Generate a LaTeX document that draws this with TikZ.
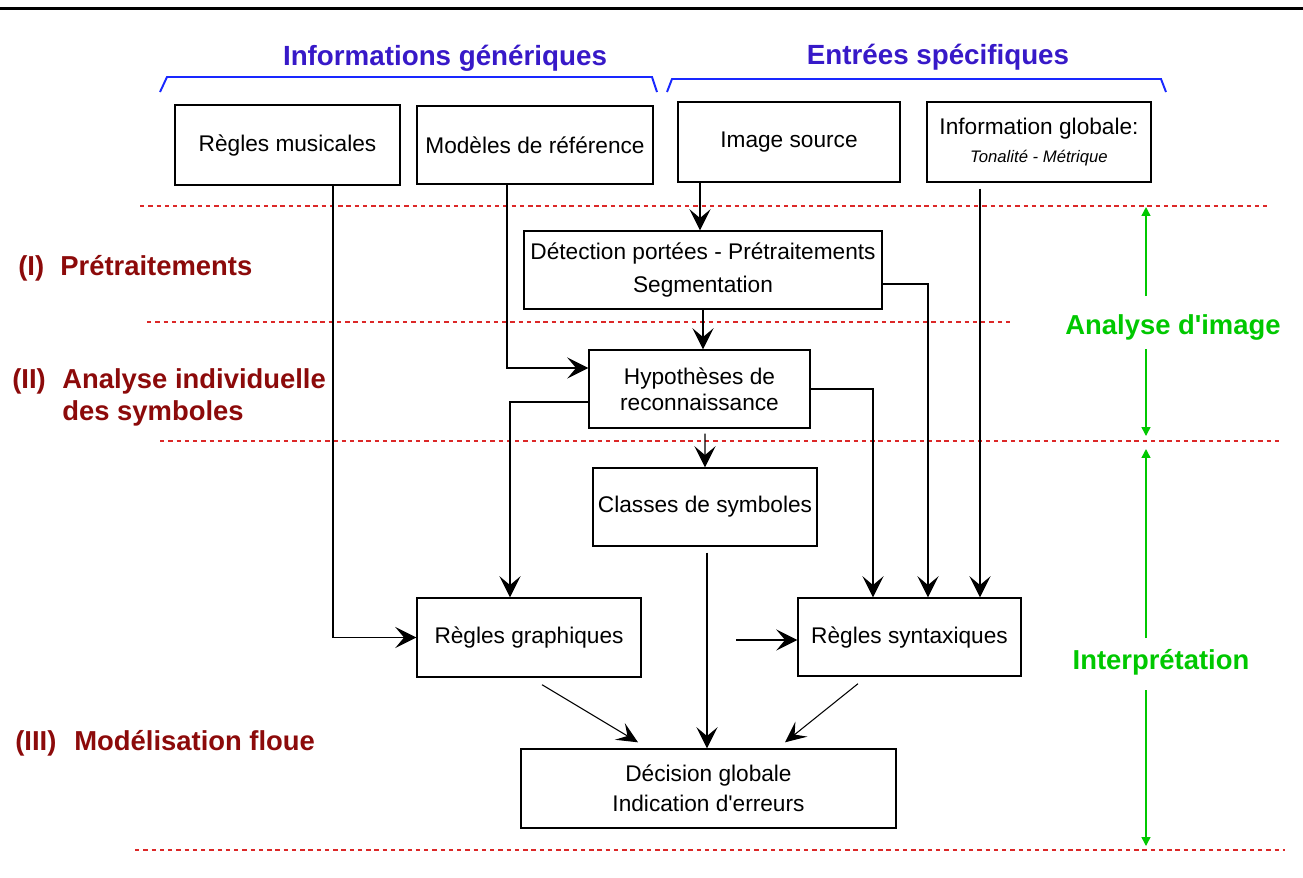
\documentclass[tikz,border=0pt]{standalone}
\usepackage{fontspec}
\setmainfont{Liberation Sans}[Ligatures=TeXOff]
\usetikzlibrary{arrows.meta,calc}

\definecolor{bleutitre}{RGB}{55,25,200}
\definecolor{bleuaccol}{RGB}{25,40,255}
\definecolor{rougephase}{RGB}{140,10,10}
\definecolor{rougetiret}{RGB}{220,40,40}
\definecolor{vertimg}{RGB}{0,200,0}

\tikzset{
  boite/.style={draw, line width=0.8pt, align=center, inner sep=0pt,
    font=\fontsize{12.9}{15}\selectfont},
  fleche/.style={-{Stealth[length=12pt,width=12pt,inset=5pt]}, line width=0.8pt},
  oblique/.style={-{Stealth[length=12pt,width=11pt,inset=5pt]}, line width=0.6pt},
  separation/.style={draw=rougetiret, line width=0.6pt, dash pattern=on 2.5pt off 2.2pt},
  accolade/.style={draw=bleuaccol, line width=1.1pt},
  titre/.style={font=\fontsize{15.8}{18}\selectfont\bfseries, text=bleutitre, inner sep=0pt},
  phase/.style={font=\fontsize{15.6}{18}\selectfont\bfseries, text=rougephase, anchor=base west, inner sep=0pt},
  etape/.style={font=\fontsize{15.6}{18}\selectfont\bfseries, text=vertimg, inner sep=0pt},
  vfleche/.style={draw=vertimg, line width=0.8pt, -{Triangle[length=5pt,width=5pt]}}
}

\begin{document}
\begin{tikzpicture}[x=0.02cm, y=-0.02cm]
  \useasboundingbox (0,0) rectangle (1303,877);
  \draw[line width=1.7pt] (0,8.5) -- (1303,8.5);

  % Titres et accolades
  \node[titre] (generique) at (445,58) {Informations génériques};
  \node[titre] (specifique) at (938,57) {Entrées spécifiques};
  \draw[accolade] (160,92) -- (167,77) -- (652,77) -- (657,92);
  \draw[accolade] (667,92) -- (672,79) -- (1161,79) -- (1166,92);

  % Separations des phases
  \draw[separation] (140,206) -- (1270,206);
  \draw[separation] (147,322) -- (1012,322);
  \draw[separation] (160,441) -- (1280,441);
  \draw[separation] (135,850) -- (1285,850);

  % Boites
  \node[boite, minimum width=4.5cm,  minimum height=1.6cm]  (musique)  at (287.5,145) {Règles musicales};
  \node[boite, minimum width=4.72cm, minimum height=1.56cm] (modeles)  at (535,145)   {Modèles de référence};
  \node[boite, minimum width=4.44cm, minimum height=1.6cm]  (image)    at (789,142)   {Image source};
  \node[boite, minimum width=4.48cm, minimum height=1.6cm]  (infoglob) at (1039,142)
    {Information globale:\\[1pt] {\fontsize{9.5}{11}\selectfont\itshape Tonalité - Métrique}};
  \node[boite, minimum width=7.16cm, minimum height=1.56cm] (detect)   at (703,270)
    {Détection portées - Prétraitements\\[3.8pt] Segmentation};
  \node[boite, minimum width=4.42cm, minimum height=1.56cm] (hypo)     at (699.5,389)
    {Hypothèses de\\ reconnaissance};
  \node[boite, minimum width=4.48cm, minimum height=1.56cm] (classes)  at (705,507)   {Classes de symboles};
  \node[boite, minimum width=4.48cm, minimum height=1.58cm] (graph)    at (529,637.5) {Règles graphiques};
  \node[boite, minimum width=4.46cm, minimum height=1.56cm] (synt)     at (909.5,637) {Règles syntaxiques};
  \node[boite, minimum width=7.5cm,  minimum height=1.58cm] (decision) at (708.5,788.5)
    {Décision globale\\[2pt] Indication d'erreurs};

  % Liens
  \coordinate (infoout) at ($(infoglob.south)+(-59,6)$);
  \coordinate (clsout) at ($(classes.south)+(2,6)$);
  \draw[fleche] ($(musique.south)+(45.5,0)$) |- (graph.west);
  \draw[fleche] ($(modeles.south)+(-28,0)$) |- ($(hypo.west)+(0,-21)$);
  \draw[fleche] ($(image.south)+(-89,0)$) -- ($(detect.north)+(-3,0)$);
  \draw[fleche] (detect.south) -- (detect.south |- hypo.north);
  \draw[fleche] ($(hypo.west)+(0,13)$) -| ($(graph.north)+(-19,0)$);
  \draw[fleche] ($(hypo.south)+(5.5,5)$) -- (classes.north);
  \draw[fleche] (hypo.east) -| ($(synt.north)+(-36.5,0)$);
  \draw[fleche] ($(detect.east)+(0,14)$) -| ($(synt.north)+(18.5,0)$);
  \draw[fleche] (infoout) -- (infoout |- synt.north);
  \draw[fleche] ($(synt.west)+(-61,3)$) -- ($(synt.west)+(0,3)$);
  \draw[fleche] (clsout) -- (clsout |- decision.north);
  \draw[oblique] ($(graph.south)+(13,7)$) -- ($(decision.north)+(-70.5,-6)$);
  \draw[oblique] ($(synt.south)+(-51.5,7)$) -- ($(decision.north)+(76.5,-6)$);

  % Phases
  \node[phase] (num1) at (18,275) {(I)};
  \node[phase] (pretrait) at (60,275) {Prétraitements};
  \node[phase] (num2) at (12,388) {(II)};
  \node[phase] (indiv) at (62,388) {Analyse individuelle};
  \node[phase] (symb) at (62,420) {des symboles};
  \node[phase] (num3) at (15,750) {(III)};
  \node[phase] (floue) at (74,750) {Modélisation floue};

  % Etapes
  \coordinate (sep1) at (1146,207);
  \coordinate (sep3a) at (1146,436);
  \coordinate (sep3b) at (1146,449);
  \coordinate (sep4) at (1146,846);
  \node[etape] (analyse) at (1173,327) {Analyse d'image};
  \node[etape] (interp) at (1161,662) {Interprétation};
  \draw[vfleche] ($(analyse.center -| sep1)+(0,-31)$) -- (sep1);
  \draw[vfleche] ($(analyse.center -| sep1)+(0,22)$) -- (sep3a);
  \draw[vfleche] ($(interp.center -| sep1)+(0,-24)$) -- (sep3b);
  \draw[vfleche] ($(interp.center -| sep1)+(0,28)$) -- (sep4);
\end{tikzpicture}
\end{document}
